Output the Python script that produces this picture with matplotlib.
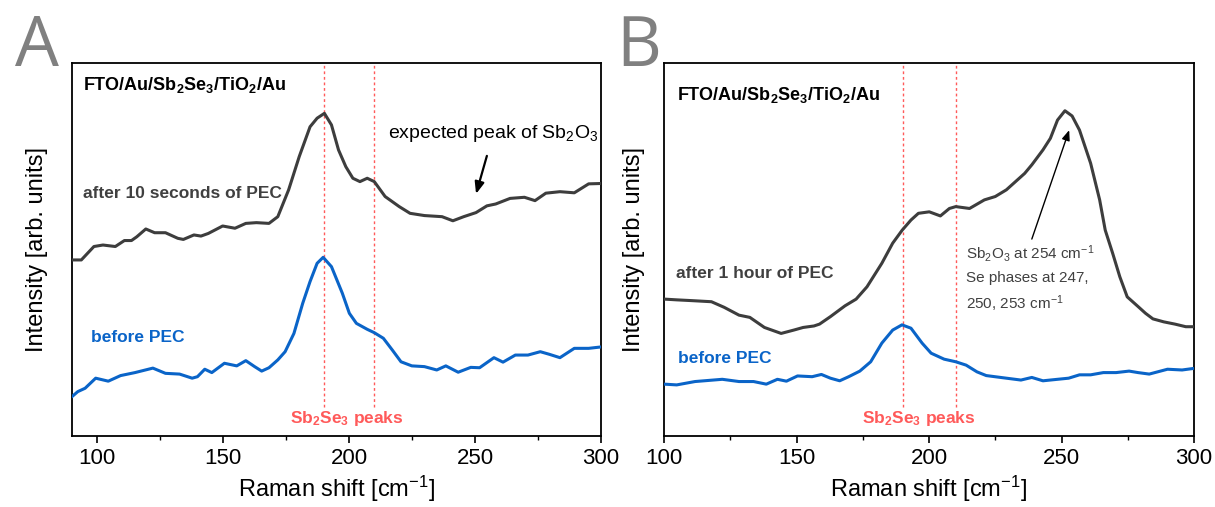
import matplotlib
matplotlib.use("Agg")
import matplotlib.pyplot as plt
from matplotlib.ticker import MultipleLocator

plt.rcParams['font.family'] = ['Liberation Sans', 'DejaVu Sans']
plt.rcParams['mathtext.fontset'] = 'custom'
plt.rcParams['mathtext.rm'] = 'Liberation Sans'
plt.rcParams['mathtext.it'] = 'Liberation Sans:italic'
plt.rcParams['mathtext.bf'] = 'Liberation Sans:bold'
plt.rcParams['lines.solid_joinstyle'] = 'round'
plt.rcParams['lines.solid_capstyle'] = 'round'

# ---------------- data (arbitrary intensity units) ----------------
# Panel A
a_after_x = [89.9, 93.7, 98.7, 102.3, 107.2, 110.8, 113.6, 115.7, 119.3, 122.8, 127.1, 132.0,
             134.2, 138.4, 141.2, 144.1, 149.8, 154.7, 159.0, 163.2, 168.2, 171.7, 176.0, 180.2,
             184.5, 187.3, 190.2, 193.0, 195.8, 198.7, 201.5, 204.3, 207.2, 210.0, 214.3, 219.9,
             224.2, 229.9, 236.9, 241.2, 245.5, 250.4, 254.7, 258.2, 263.9, 269.6, 273.8, 278.1,
             283.7, 289.4, 295.1, 300.3]
a_after_y = [47.2, 47.2, 50.8, 51.2, 50.8, 52.4, 52.4, 53.4, 55.5, 54.5, 54.5, 53.0,
             52.7, 53.9, 53.6, 54.3, 56.3, 55.7, 57.0, 57.2, 57.0, 58.8, 66.0, 74.9,
             82.9, 85.2, 86.5, 83.4, 76.7, 72.2, 69.1, 68.2, 69.1, 68.2, 64.2, 61.5,
             59.7, 59.1, 58.8, 57.7, 58.8, 59.9, 61.7, 62.2, 63.7, 64.0, 63.1, 65.1,
             65.5, 65.2, 67.6, 67.7]

a_before_x = [89.9, 92.3, 95.2, 99.4, 104.4, 109.3, 115.0, 122.1, 127.1, 132.7, 137.7, 139.8,
              142.7, 145.5, 150.5, 155.4, 159.0, 162.5, 165.3, 168.2, 171.7, 174.6, 178.1, 181.6,
              184.5, 187.3, 189.7, 193.0, 197.3, 200.1, 202.9, 207.2, 210.0, 213.6, 217.1, 220.6,
              224.9, 229.9, 234.8, 238.4, 243.3, 248.3, 251.8, 257.5, 261.1, 266.0, 271.0, 275.9,
              279.5, 283.7, 289.4, 295.1, 300.3]
a_before_y = [10.5, 11.9, 12.8, 15.5, 14.7, 16.2, 17.0, 18.2, 16.8, 16.6, 15.5, 15.9,
              17.9, 17.0, 19.5, 18.8, 20.2, 18.6, 17.4, 18.3, 20.4, 22.6, 27.5, 35.6,
              41.4, 46.3, 47.9, 45.4, 38.3, 32.9, 30.2, 28.6, 27.7, 26.2, 23.1, 19.9,
              18.8, 18.6, 17.7, 18.8, 17.1, 18.4, 18.3, 21.0, 19.8, 21.7, 21.7, 22.6,
              21.9, 21.0, 23.5, 23.5, 23.9]

# Panel B
b_after_x = [100.1, 104.8, 110.3, 117.9, 122.7, 128.3, 132.4, 137.9, 144.2, 149.0, 152.5, 156.6,
             158.7, 162.8, 168.3, 172.5, 176.6, 182.2, 186.3, 189.9, 193.2, 196.0, 200.1, 204.3,
             207.7, 210.1, 215.3, 220.9, 225.0, 229.2, 236.1, 238.8, 243.0, 245.8, 248.5, 251.3,
             254.0, 256.8, 261.0, 264.4, 266.5, 269.3, 272.0, 274.8, 278.9, 281.7, 284.5, 288.6,
             292.8, 296.9, 299.7]
b_after_y = [36.7, 36.5, 36.3, 36.0, 34.5, 32.4, 31.8, 29.1, 27.5, 28.4, 29.1, 29.5,
             30.0, 32.0, 34.9, 36.7, 40.0, 46.3, 51.7, 55.2, 57.9, 59.7, 60.1, 59.0,
             61.0, 61.5, 61.0, 63.3, 64.2, 66.0, 70.4, 72.7, 76.7, 79.8, 84.7, 87.2,
             85.8, 82.0, 73.1, 63.3, 55.2, 49.0, 42.7, 37.3, 34.7, 32.9, 31.4, 30.6,
             30.0, 29.3, 29.3]

b_before_x = [100.1, 104.8, 111.7, 122.0, 128.3, 133.8, 138.6, 142.8, 146.2, 150.4, 155.9, 159.4,
              162.8, 166.3, 169.7, 173.9, 178.0, 182.2, 186.3, 189.8, 193.2, 197.4, 200.8, 205.7,
              210.1, 214.0, 218.1, 221.6, 229.2, 234.7, 238.8, 243.0, 248.5, 252.7, 256.8, 261.0,
              265.8, 270.6, 275.5, 278.9, 283.1, 290.0, 295.5, 299.7]
b_before_y = [13.9, 13.7, 14.6, 15.2, 14.6, 14.6, 13.9, 15.2, 14.7, 16.1, 15.9, 16.5,
              15.5, 14.8, 15.9, 17.4, 19.9, 24.9, 28.4, 29.8, 28.9, 24.9, 22.2, 20.6,
              19.9, 19.0, 17.2, 16.2, 15.5, 15.0, 15.7, 14.8, 15.2, 15.5, 16.4, 16.4,
              17.0, 17.0, 17.4, 17.0, 16.6, 17.9, 17.7, 18.1]

peak_lines = [190, 210]
x_ticks = [100, 150, 200, 250, 300]

GRAY = '#3d3d3d'
BLUE = '#0a64c8'
RED = '#ff5a5a'
TXT_GRAY = '#404040'

fig = plt.figure(figsize=(12.15, 5.07), dpi=100)
axA = fig.add_axes([72/1215, 71/507, 529/1215, 373/507])
axB = fig.add_axes([664/1215, 71/507, 530/1215, 373/507])

stack_label = r'FTO/Au/Sb$_\mathbf{2}$Se$_\mathbf{3}$/TiO$_\mathbf{2}$/Au'
peaks_label = r'Sb$_\mathbf{2}$Se$_\mathbf{3}$ peaks'

def style(ax, xlim):
    ax.set_xlim(*xlim)
    ax.set_ylim(0, 100)
    ax.set_yticks([])
    ax.set_xticks(x_ticks)
    ax.xaxis.set_minor_locator(MultipleLocator(25))
    ax.tick_params(axis='x', which='major', direction='out', length=5, width=1.2,
                   labelsize=16, pad=4)
    ax.tick_params(axis='x', which='minor', direction='out', length=3, width=1.0)
    for s in ax.spines.values():
        s.set_linewidth(1.3)
    ax.set_xlabel(r'Raman shift [cm$^{-1}$]', fontsize=17, labelpad=3)
    ax.set_ylabel('Intensity [arb. units]', fontsize=17)
    for xv in peak_lines:
        ax.plot([xv, xv], [7.8, 100], color=RED, lw=1.0, ls=(0, (2, 2)), zorder=1)

# ---- Panel A
style(axA, (90, 300))
axA.yaxis.set_label_coords(-0.045, 0.5)
axA.plot(a_after_x, a_after_y, color=GRAY, lw=2.2, zorder=3)
axA.plot(a_before_x, a_before_y, color=BLUE, lw=2.2, zorder=3)
axA.text(94.4, 94.1, stack_label, fontsize=13, fontweight='bold', color='black', va='center')
axA.text(94.4, 65.1, 'after 10 seconds of PEC', fontsize=12.5, fontweight='bold',
         color=TXT_GRAY, va='center')
axA.text(215.4, 81.2, r'expected peak of Sb$_2$O$_3$', fontsize=14, color='black', va='center')
axA.text(97.5, 26.4, 'before PEC', fontsize=12.5, fontweight='bold', color=BLUE, va='center')
axA.text(199.2, 4.6, peaks_label, fontsize=12.5, fontweight='bold', color=RED,
         va='center', ha='center')
axA.annotate('', xy=(250.4, 64.9), xytext=(254.7, 75.1),
             arrowprops=dict(arrowstyle='-|>,head_length=0.5,head_width=0.2', color='black',
                             lw=1.6, mutation_scale=14, shrinkA=0, shrinkB=0))

# ---- Panel B
style(axB, (100, 300))
axB.yaxis.set_label_coords(-0.036, 0.5)
axB.plot(b_after_x, b_after_y, color=GRAY, lw=2.2, zorder=3)
axB.plot(b_before_x, b_before_y, color=BLUE, lw=2.2, zorder=3)
axB.text(104.9, 91.4, stack_label, fontsize=13, fontweight='bold', color='black', va='center')
axB.text(104.5, 43.6, 'after 1 hour of PEC', fontsize=12.5, fontweight='bold',
         color=TXT_GRAY, va='center')
axB.text(105.3, 20.8, 'before PEC', fontsize=12.5, fontweight='bold', color=BLUE, va='center')
axB.text(196.2, 4.7, peaks_label, fontsize=12.5, fontweight='bold', color=RED,
         va='center', ha='center')
axB.text(214.0, 49.0, r'Sb$_2$O$_3$ at 254 cm$^{-1}$', fontsize=11, color=TXT_GRAY, va='center')
axB.text(214.0, 42.3, 'Se phases at 247,', fontsize=11, color=TXT_GRAY, va='center')
axB.text(214.0, 35.4, r'250, 253 cm$^{-1}$', fontsize=11, color=TXT_GRAY, va='center')
axB.annotate('', xy=(252.9, 82.0), xytext=(238.8, 52.8),
             arrowprops=dict(arrowstyle='-|>,head_length=0.5,head_width=0.2', color='black',
                             lw=1.0, mutation_scale=12, shrinkA=0, shrinkB=0))

# ---- Panel letters
fig.text(15/1215, 1 - 66/507, 'A', fontsize=50, color='#808080', ha='left', va='baseline',
         family=['Open Sans', 'DejaVu Sans'])
fig.text(616/1215, 1 - 66/507, 'B', fontsize=50, color='#808080', ha='left', va='baseline',
         family=['Open Sans', 'DejaVu Sans'])

fig.savefig('out.png', dpi=100)
